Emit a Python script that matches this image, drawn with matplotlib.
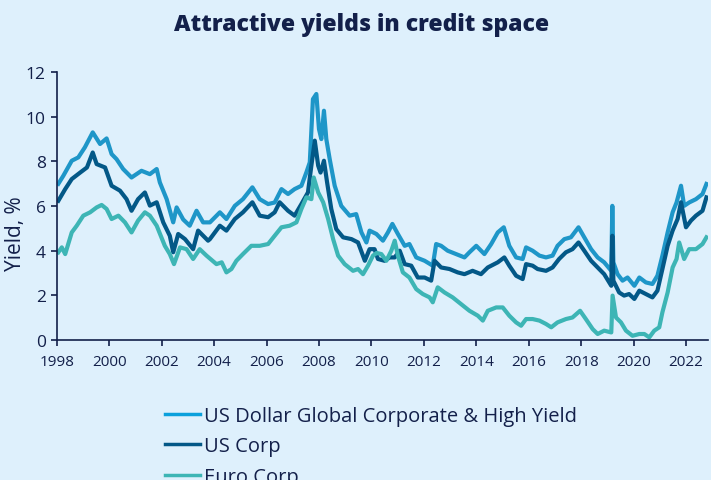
import matplotlib
matplotlib.use("Agg")
import matplotlib.pyplot as plt
from matplotlib.lines import Line2D

# ---- data (decimal years, yield %) ----
glob_x = [1998.06, 1998.25, 1998.57, 1998.82, 1999.07, 1999.37, 1999.65, 1999.9, 2000.09, 2000.28,
          2000.53, 2000.85, 2001.23, 2001.55, 2001.81, 2001.93, 2002.19, 2002.44, 2002.57, 2002.82,
          2003.07, 2003.33, 2003.58, 2003.84, 2004.22, 2004.47, 2004.79, 2005.1, 2005.46, 2005.74,
          2006.06, 2006.31, 2006.57, 2006.82, 2007.07, 2007.33, 2007.52, 2007.65, 2007.77, 2007.9,
          2008.0, 2008.09, 2008.19, 2008.28, 2008.41, 2008.6, 2008.85, 2009.17, 2009.42, 2009.62,
          2009.81, 2009.93, 2010.19, 2010.44, 2010.63, 2010.8, 2011.01, 2011.27, 2011.45, 2011.71,
          2012.03, 2012.34, 2012.47, 2012.66, 2012.91, 2013.23, 2013.55, 2013.74, 2014.0, 2014.31,
          2014.57, 2014.82, 2015.05, 2015.26, 2015.52, 2015.77, 2015.9, 2016.15, 2016.41, 2016.66,
          2016.91, 2017.1, 2017.36, 2017.61, 2017.9, 2018.12, 2018.38, 2018.63, 2018.88, 2019.15,
          2019.19, 2019.23, 2019.39, 2019.58, 2019.77, 2020.03, 2020.22, 2020.47, 2020.72, 2020.91,
          2021.1, 2021.3, 2021.49, 2021.64, 2021.81, 2021.93, 2022.12, 2022.38, 2022.63, 2022.78]
glob_y = [7.0, 7.36, 8.03, 8.18, 8.63, 9.3, 8.78, 9.03, 8.33, 8.1,
          7.66, 7.28, 7.58, 7.43, 7.66, 7.06, 6.31, 5.27, 5.94, 5.4,
          5.12, 5.79, 5.27, 5.27, 5.72, 5.42, 6.01, 6.31, 6.84, 6.31,
          6.09, 6.16, 6.76, 6.54, 6.76, 6.91, 7.51, 7.96, 10.79, 11.02,
          9.45, 9.0, 10.27, 9.0, 8.1, 6.91, 6.01, 5.57, 5.64, 4.82,
          4.37, 4.9, 4.75, 4.45, 4.82, 5.2, 4.75, 4.22, 4.3, 3.7,
          3.55, 3.33, 4.3, 4.22, 4.0, 3.85, 3.7, 3.93, 4.22, 3.85,
          4.3, 4.82, 5.05, 4.22, 3.7, 3.63, 4.15, 4.0, 3.78, 3.7,
          3.78, 4.22, 4.52, 4.6, 5.05, 4.6, 4.07, 3.7, 3.48, 3.1,
          6.01, 3.48, 2.95, 2.66, 2.8, 2.43, 2.8, 2.58, 2.51, 2.88,
          3.78, 4.82, 5.72, 6.16, 6.91, 6.01, 6.16, 6.31, 6.54, 6.99]

corp_x = [1998.06, 1998.32, 1998.57, 1998.89, 1999.15, 1999.37, 1999.52, 1999.84, 2000.09, 2000.41,
          2000.66, 2000.85, 2001.1, 2001.36, 2001.55, 2001.81, 2002.06, 2002.31, 2002.44, 2002.63,
          2002.89, 2003.2, 2003.39, 2003.77, 2003.84, 2004.22, 2004.47, 2004.79, 2005.1, 2005.46,
          2005.74, 2006.06, 2006.31, 2006.5, 2006.82, 2007.07, 2007.33, 2007.58, 2007.71, 2007.84,
          2007.97, 2008.06, 2008.19, 2008.31, 2008.47, 2008.66, 2008.92, 2009.24, 2009.49, 2009.75,
          2009.93, 2010.12, 2010.25, 2010.5, 2010.7, 2010.89, 2011.08, 2011.27, 2011.52, 2011.77,
          2012.03, 2012.28, 2012.41, 2012.66, 2012.98, 2013.29, 2013.55, 2013.86, 2014.18, 2014.44,
          2014.82, 2015.07, 2015.26, 2015.52, 2015.77, 2015.9, 2016.15, 2016.34, 2016.66, 2016.91,
          2017.16, 2017.42, 2017.67, 2017.9, 2018.12, 2018.38, 2018.63, 2018.88, 2019.15, 2019.19,
          2019.23, 2019.45, 2019.64, 2019.83, 2020.03, 2020.22, 2020.47, 2020.72, 2020.91, 2021.1,
          2021.3, 2021.49, 2021.68, 2021.81, 2022.0, 2022.19, 2022.38, 2022.63, 2022.78]
corp_y = [6.24, 6.76, 7.21, 7.5, 7.73, 8.4, 7.88, 7.73, 6.91, 6.69,
          6.31, 5.79, 6.31, 6.61, 6.02, 6.17, 5.27, 4.67, 3.93, 4.75,
          4.52, 4.07, 4.9, 4.45, 4.52, 5.12, 4.9, 5.42, 5.72, 6.17,
          5.57, 5.5, 5.72, 6.17, 5.79, 5.57, 6.09, 6.61, 7.81, 8.93,
          7.81, 7.5, 8.03, 7.06, 5.87, 4.97, 4.6, 4.52, 4.37, 3.55,
          4.07, 4.07, 3.63, 3.55, 3.7, 3.7, 4.0, 3.4, 3.33, 2.8,
          2.8, 2.66, 3.55, 3.25, 3.18, 3.03, 2.95, 3.1, 2.95, 3.25,
          3.48, 3.7, 3.33, 2.88, 2.73, 3.4, 3.33, 3.18, 3.1, 3.25,
          3.63, 3.93, 4.07, 4.37, 4.0, 3.55, 3.25, 2.95, 2.43, 4.67,
          2.66, 2.13, 1.99, 2.06, 1.84, 2.21, 2.06, 1.91, 2.21, 3.18,
          4.22, 4.9, 5.42, 6.17, 5.05, 5.35, 5.57, 5.79, 6.39]

euro_x = [1998.06, 1998.19, 1998.32, 1998.57, 1998.76, 1999.01, 1999.27, 1999.52, 1999.71, 1999.9,
          2000.09, 2000.35, 2000.6, 2000.85, 2001.1, 2001.36, 2001.55, 2001.81, 2002.12, 2002.31,
          2002.47, 2002.7, 2002.95, 2003.2, 2003.45, 2003.71, 2004.09, 2004.29, 2004.47, 2004.66,
          2004.85, 2005.1, 2005.42, 2005.74, 2006.06, 2006.31, 2006.57, 2006.88, 2007.14, 2007.33,
          2007.52, 2007.71, 2007.8, 2007.97, 2008.16, 2008.35, 2008.54, 2008.73, 2008.98, 2009.3,
          2009.49, 2009.68, 2009.87, 2010.06, 2010.2, 2010.38, 2010.57, 2010.76, 2010.89, 2011.01,
          2011.2, 2011.45, 2011.71, 2011.96, 2012.22, 2012.34, 2012.53, 2012.79, 2013.1, 2013.42,
          2013.74, 2014.06, 2014.25, 2014.44, 2014.76, 2015.01, 2015.26, 2015.52, 2015.71, 2015.9,
          2016.15, 2016.41, 2016.66, 2016.86, 2017.1, 2017.42, 2017.67, 2017.96, 2018.18, 2018.44,
          2018.63, 2018.88, 2019.15, 2019.2, 2019.33, 2019.52, 2019.71, 2019.96, 2020.22, 2020.41,
          2020.6, 2020.79, 2020.98, 2021.1, 2021.3, 2021.49, 2021.64, 2021.74, 2021.93, 2022.12,
          2022.38, 2022.63, 2022.78]
euro_y = [3.93, 4.15, 3.85, 4.82, 5.12, 5.57, 5.72, 5.94, 6.05, 5.87,
          5.42, 5.57, 5.27, 4.82, 5.35, 5.72, 5.57, 5.12, 4.22, 3.85,
          3.4, 4.15, 4.07, 3.63, 4.07, 3.78, 3.4, 3.48, 3.03, 3.18,
          3.55, 3.85, 4.22, 4.22, 4.3, 4.67, 5.05, 5.12, 5.27, 5.87,
          6.39, 6.31, 7.28, 6.61, 6.17, 5.42, 4.52, 3.78, 3.4, 3.1,
          3.18, 2.95, 3.33, 3.78, 3.9, 3.85, 3.55, 4.0, 4.45, 3.78,
          3.03, 2.8, 2.28, 2.06, 1.91, 1.69, 2.36, 2.13, 1.91, 1.61,
          1.31, 1.09, 0.87, 1.31, 1.46, 1.46, 1.09, 0.79, 0.64, 0.94,
          0.94, 0.87, 0.72, 0.57, 0.79, 0.94, 1.01, 1.31, 0.94, 0.49,
          0.27, 0.42, 0.34, 1.99, 1.01, 0.79, 0.42, 0.19, 0.27, 0.27,
          0.12, 0.42, 0.57, 1.24, 2.13, 3.25, 3.63, 4.37, 3.63, 4.07,
          4.07, 4.3, 4.6]

series_names = ["US Dollar Global Corporate & High Yield", "US Corp", "Euro Corp"]
xtick_years = list(range(1998, 2023, 2))
yticks = [0, 2, 4, 6, 8, 10, 12]
title = "Attractive yields in credit space"
ylabel = "Yield, %"

# ---- style ----
BG = "#DEF0FC"
NAVY = "#13204A"
colors = ["#1E96C8", "#035887", "#3DB5B5"]
legend_colors = ["#0AA0DC", "#035887", "#3DB5B5"]

plt.rcParams["font.family"] = ["Open Sans", "DejaVu Sans"]

fig = plt.figure(figsize=(7.11, 4.81), dpi=100, facecolor=BG)
ax = fig.add_axes([0.0799, 0.291, 0.9159, 0.557])
ax.set_facecolor(BG)

lw = 3.0
ax.plot(glob_x, glob_y, color=colors[0], lw=lw, solid_joinstyle="round")
ax.plot(corp_x, corp_y, color=colors[1], lw=lw, solid_joinstyle="round")
ax.plot(euro_x, euro_y, color=colors[2], lw=lw, solid_joinstyle="round")

ax.set_xlim(1998, 2022.84)
ax.set_ylim(0, 12)
ax.set_xticks(xtick_years)
ax.set_xticklabels([str(y) for y in xtick_years])
ax.set_yticks(yticks)
ax.set_yticklabels([str(v) for v in yticks])

for s in ["top", "right"]:
    ax.spines[s].set_visible(False)
for s in ["left", "bottom"]:
    ax.spines[s].set_color(NAVY)
    ax.spines[s].set_linewidth(1.2)
ax.tick_params(axis="both", direction="out", length=4, width=1.2, color=NAVY,
               labelcolor=NAVY)
ax.tick_params(axis="x", labelsize=11, pad=6)
ax.tick_params(axis="y", labelsize=12.5, pad=4)
ax.set_ylabel(ylabel, fontsize=15, color=NAVY)
ax.yaxis.set_label_coords(-0.047, 0.40)

fig.text(0.508, 0.948, title, ha="center", va="center", fontsize=16.5,
         fontweight="heavy", color=NAVY)

handles = [Line2D([0], [0], color=c, lw=2.5) for c in legend_colors]
leg = fig.legend(handles, series_names, loc="upper left",
                 bbox_to_anchor=(0.232, 1 - 407 / 481), bbox_transform=fig.transFigure,
                 frameon=False, fontsize=14.5, handlelength=1.75, handletextpad=0.2,
                 labelspacing=0.52, borderaxespad=0, borderpad=0)
for t in leg.get_texts():
    t.set_color(NAVY)

fig.savefig("out.png", dpi=100, facecolor=BG)
